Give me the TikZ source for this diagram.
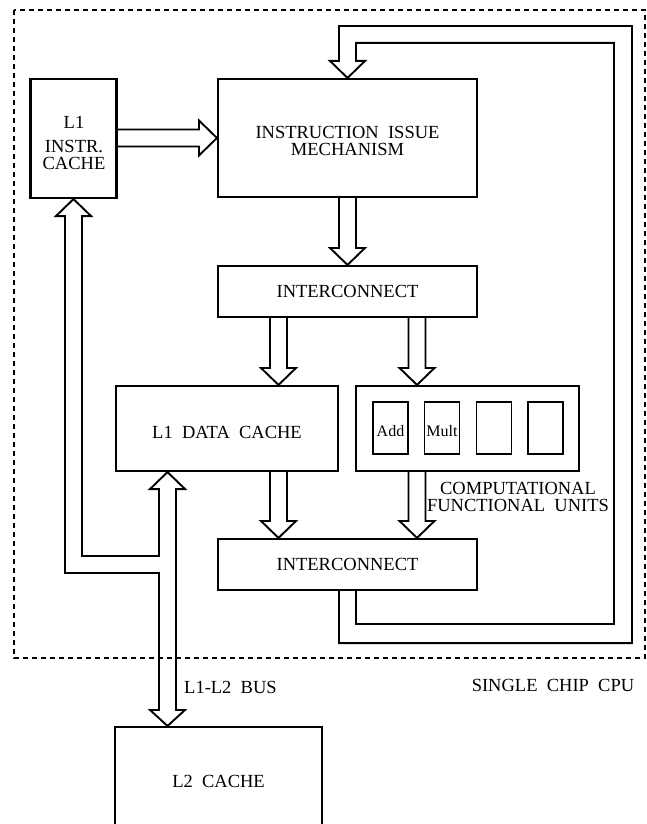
\documentclass[tikz,border=0pt]{standalone}
\usepackage{fontspec}
\setmainfont{Liberation Serif}
\usetikzlibrary{calc}
\newcommand\vhollow[3]{%
  \draw[blockarrow] ($(#2.south -| #1)+(-8.5,0)$) -- ($(#3.north -| #1)+(-8.5,-17)$) -- ++(-9,0) -- (#3.north -| #1) -- ++(17.5,-17) -- ++(-9,0) -- ($(#2.south -| #1)+(8.5,0)$);}
\begin{document}
\begin{tikzpicture}[x=1pt,y=-1pt,
  box/.style={draw, line width=2.1pt, inner sep=1pt, align=center, font=\fontsize{18.5}{17}\selectfont},
  lowtext/.style={text height=19pt, text depth=0pt},
  unitbox/.style={draw, line width=1.9pt, inner sep=0pt, minimum width=35, minimum height=52, font=\fontsize{16}{16}\selectfont, text height=16.5pt, text depth=0pt},
  blockarrow/.style={draw, line width=1.9pt, line join=miter},
  lbl/.style={font=\fontsize{18.5}{17}\selectfont, inner sep=0pt, align=center},
  border/.style={draw, line width=1.2pt, dash pattern=on 5pt off 4pt}]

\fill[white] (0,0) rectangle (647,824);
\useasboundingbox (0,0) rectangle (647,824);
\clip (0,0) rectangle (647,824);

% chip boundary
\draw[border] (14,10) rectangle (645,658);

% boxes
\node[box, minimum width=86, minimum height=119] (icache) at (73.5,138.5) {};
\node[lbl, font=\fontsize{18.5}{17}\selectfont] (icachet) at (74,142.5) {L1\\[7pt]INSTR.\\CACHE};
\node[box, minimum width=259, minimum height=118] (iim) at (347.5,138) {};
\node[lbl] (iimt) at (347.5,141) {INSTRUCTION~~ISSUE\\MECHANISM};
\node[box, minimum width=259, minimum height=51] (ic1) at (347.5,291.5) {INTERCONNECT};
\node[box, lowtext, minimum width=222, minimum height=85] (dcache) at (227,428.5) {L1~~DATA~~CACHE};
\node[box, minimum width=223, minimum height=85] (cfu) at (467.5,428.5) {};
\node[unitbox] (u1) at (390.5,428) {Add};
\node[unitbox] (u2) at (442,428) {Mult};
\node[unitbox] (u3) at (494,428) {};
\node[unitbox] (u4) at (545.5,428) {};
\node[box, minimum width=259, minimum height=51] (ic2) at (347.5,564.5) {INTERCONNECT};
\node[box, minimum width=207, minimum height=108] (l2) at (218.5,781) {L2~~CACHE};

% labels
\node[lbl] (cful) at (518,497) {COMPUTATIONAL\\FUNCTIONAL~~UNITS};
\node[lbl, anchor=west] (busl) at (184,687) {L1-L2~~BUS};
\node[lbl] (chipl) at (553,685) {SINGLE~~CHIP~~CPU};

% x positions of vertical arrows
\coordinate (xa) at (278.5,0);
\coordinate (xb) at (417,0);
\coordinate (xc) at (347.5,0);
\coordinate (busx) at (167.5,0);

% L1 instr cache -> issue mechanism
\draw[blockarrow] ($(icache.east |- iim.west)+(0,-8.5)$) -- ($(iim.west)+(-18,-8.5)$) -- ++(0,-9) -- (iim.west) -- ++(-18,17.5) -- ++(0,-9) -- ($(icache.east |- iim.west)+(0,8.5)$);

% vertical arrows
\vhollow{xc}{iim}{ic1}
\vhollow{xa}{ic1}{dcache}
\vhollow{xb}{ic1}{cfu}
\vhollow{xa}{dcache}{ic2}
\vhollow{xb}{cfu}{ic2}

% feedback loop from lower interconnect to issue mechanism
\draw[blockarrow] ($(ic2.south)+(-8.5,0)$) -- ++(0,52) -| (632,26) -| ($(iim.north)+(-8.5,-17)$) -- ++(-9,0) -- (iim.north) -- ++(17.5,-17) -- ++(-9,0) -- ++(0,-18) -| (614,624) -| ($(ic2.south)+(8.5,0)$);

% L1-L2 bus with branch to the L1 instruction cache
\draw[blockarrow] ($(dcache.south -| busx)+(8.5,17)$) -- ++(9,0) -- (dcache.south -| busx) -- ++(-17.5,17) -- ++(9,0) |- (82,556) -- ($(icache.south)+(8.5,17)$) -- ++(9,0) -- (icache.south) -- ++(-17.5,17) -- ++(9,0) -- (65,573) -| ($(l2.north -| busx)+(-8.5,-16)$) -- ++(-9,0) -- (l2.north -| busx) -- ++(17.5,-16) -- ++(-9,0) -- cycle;
\end{tikzpicture}
\end{document}
